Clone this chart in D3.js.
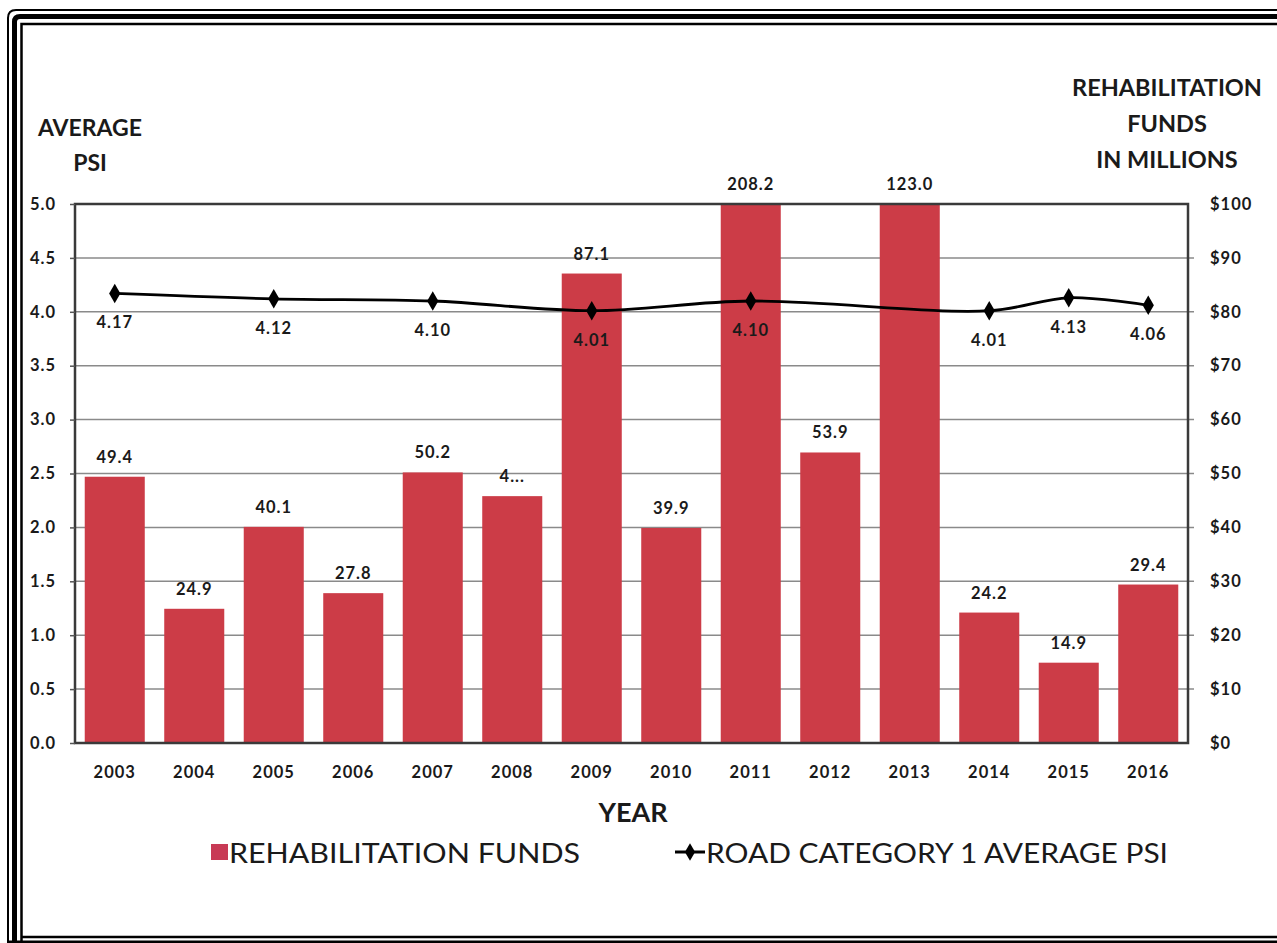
<!DOCTYPE html>
<html>
<head>
<meta charset="utf-8">
<script src="https://cdn.jsdelivr.net/npm/d3@7/dist/d3.min.js"></script>
<style>
  html, body { margin: 0; padding: 0; background: #fff; }
  svg { display: block; }
  text { font-family: Lato, "Open Sans", sans-serif; fill: #1a1a1a; }
</style>
</head>
<body>
<svg id="chart" width="1277" height="943"></svg>
<script>
// Years on the x axis
const years = ["2003","2004","2005","2006","2007","2008","2009","2010","2011","2012","2013","2014","2015","2016"];
// Rehabilitation funds, millions of dollars (bars, right axis)
const funds = [49.4, 24.9, 40.1, 27.8, 50.2, 45.8, 87.1, 39.9, 208.2, 53.9, 123.0, 24.2, 14.9, 29.4];
// Text printed above each bar
const fundLabels = ["49.4","24.9","40.1","27.8","50.2","4...","87.1","39.9","208.2","53.9","123.0","24.2","14.9","29.4"];
// Road category 1 average PSI (line, left axis); years without a reading are null
const psi = [4.17, null, 4.12, null, 4.10, null, 4.01, null, 4.10, null, null, 4.01, 4.13, 4.06];
// Axis ticks
const psiTicks = [0, 0.5, 1, 1.5, 2, 2.5, 3, 3.5, 4, 4.5, 5];
const fundTicks = [0, 10, 20, 30, 40, 50, 60, 70, 80, 90, 100];

const svg = d3.select("#chart");
const W = 1277, H = 943;
const plot = { left: 75, right: 1188, top: 204, bottom: 743 };
const smallFont = 16.5, smallSpacing = 1;

// Double frame around the whole figure
const frame = svg.append("g").attr("fill", "none").attr("stroke", "#000");
frame.append("path").attr("stroke-width", 2)
  .attr("d", `M8,${H + 5} L8,18 Q8,10 16,10 L${W + 5},10`);
frame.append("path").attr("stroke-width", 5)
  .attr("d", `M14.5,${H + 5} L14.5,22 Q14.5,16.5 20,16.5 L${W + 5},16.5`);
frame.append("path").attr("stroke-width", 2.5)
  .attr("d", `M21.5,${H + 5} L21.5,24 L${W + 5},24`);
frame.append("line").attr("stroke-width", 2.5)
  .attr("x1", 21.5).attr("x2", W + 5).attr("y1", 937).attr("y2", 937);
frame.append("line").attr("stroke-width", 3)
  .attr("x1", 8).attr("x2", W + 5).attr("y1", 942).attr("y2", 942);

// Scales
const x = d3.scaleBand().domain(years).range([plot.left, plot.right]).paddingInner(0.245).paddingOuter(0.1225);
const yPsi = d3.scaleLinear().domain([0, 5]).range([plot.bottom, plot.top]);
const yFund = d3.scaleLinear().domain([0, 100]).range([plot.bottom, plot.top]).clamp(true);

// Horizontal gridlines
svg.append("g").selectAll("line").data(psiTicks.slice(1, -1)).join("line")
  .attr("x1", plot.left).attr("x2", plot.right + 6)
  .attr("y1", d => yPsi(d)).attr("y2", d => yPsi(d))
  .attr("stroke", "#8a8a8a").attr("stroke-width", 1.5);

// Bars
svg.append("g").selectAll("rect").data(years).join("rect")
  .attr("x", d => x(d))
  .attr("width", x.bandwidth())
  .attr("y", (d, i) => yFund(funds[i]))
  .attr("height", (d, i) => plot.bottom - yFund(funds[i]))
  .attr("fill", "#cc3c47");

// Bar value labels
svg.append("g").selectAll("text").data(years).join("text")
  .attr("x", d => x(d) + x.bandwidth() / 2)
  .attr("y", (d, i) => yFund(funds[i]) - 14)
  .attr("text-anchor", "middle")
  .attr("font-size", smallFont).attr("font-weight", 700).attr("letter-spacing", smallSpacing)
  .text((d, i) => fundLabels[i]);

// Plot frame
svg.append("rect")
  .attr("x", plot.left).attr("y", plot.top)
  .attr("width", plot.right - plot.left).attr("height", plot.bottom - plot.top)
  .attr("fill", "none").attr("stroke", "#3a3a3a").attr("stroke-width", 2.5);

// Left axis
const leftAxis = d3.axisLeft(yPsi).tickValues(psiTicks).tickSize(5).tickPadding(14)
  .tickFormat(d3.format(".1f"));
const gl = svg.append("g").attr("transform", `translate(${plot.left},0)`).call(leftAxis);
gl.select(".domain").remove();
gl.selectAll(".tick line").attr("stroke", "#555").attr("stroke-width", 1.5);
gl.selectAll(".tick text").attr("font-size", smallFont).attr("font-weight", 700)
  .attr("letter-spacing", smallSpacing)
  .attr("font-family", "Lato, sans-serif").attr("fill", "#1a1a1a");

// Right axis
const rightAxis = d3.axisRight(yFund).tickValues(fundTicks).tickSize(0).tickPadding(22)
  .tickFormat(d => "$" + d);
const gr = svg.append("g").attr("transform", `translate(${plot.right},0)`).call(rightAxis);
gr.select(".domain").remove();
gr.selectAll(".tick text").attr("font-size", smallFont).attr("font-weight", 700)
  .attr("letter-spacing", smallSpacing)
  .attr("font-family", "Lato, sans-serif").attr("fill", "#1a1a1a");

// Year labels
svg.append("g").selectAll("text").data(years).join("text")
  .attr("x", d => x(d) + x.bandwidth() / 2)
  .attr("y", 778)
  .attr("text-anchor", "middle")
  .attr("font-size", smallFont).attr("font-weight", 700).attr("letter-spacing", smallSpacing)
  .text(d => d);

// PSI line (smoothed) with markers
const psiPts = years.map((d, i) => ({ year: d, v: psi[i] })).filter(p => p.v != null);
const line = d3.line()
  .x(p => x(p.year) + x.bandwidth() / 2)
  .y(p => yPsi(p.v))
  .curve(d3.curveCatmullRom.alpha(0.5));
svg.append("path").datum(psiPts)
  .attr("d", line).attr("fill", "none")
  .attr("stroke", "#000").attr("stroke-width", 2.8);
const diamond = d3.symbol().type(d3.symbolDiamond).size(110);
svg.append("g").selectAll("path").data(psiPts).join("path")
  .attr("d", diamond)
  .attr("transform", p => `translate(${x(p.year) + x.bandwidth() / 2},${yPsi(p.v)})`)
  .attr("fill", "#000");
svg.append("g").selectAll("text").data(psiPts).join("text")
  .attr("x", p => x(p.year) + x.bandwidth() / 2)
  .attr("y", p => yPsi(p.v) + 35)
  .attr("text-anchor", "middle")
  .attr("font-size", smallFont).attr("font-weight", 700).attr("letter-spacing", smallSpacing)
  .text(p => p.v.toFixed(2));

// Axis titles
const leftTitle = svg.append("text").attr("text-anchor", "middle")
  .attr("font-size", 23).attr("font-weight", 700);
leftTitle.append("tspan").attr("x", 90).attr("y", 136).text("AVERAGE");
leftTitle.append("tspan").attr("x", 90).attr("y", 171).text("PSI");

const rightTitle = svg.append("text").attr("text-anchor", "middle")
  .attr("font-size", 23.5).attr("font-weight", 700);
rightTitle.append("tspan").attr("x", 1167).attr("y", 96).text("REHABILITATION");
rightTitle.append("tspan").attr("x", 1167).attr("y", 132).text("FUNDS");
rightTitle.append("tspan").attr("x", 1167).attr("y", 168).text("IN MILLIONS");

svg.append("text").attr("x", 633).attr("y", 822)
  .attr("text-anchor", "middle").attr("font-size", 27).attr("font-weight", 700)
  .text("YEAR");

// Legend
const legend = svg.append("g");
legend.append("rect").attr("x", 211).attr("y", 844).attr("width", 17).attr("height", 16)
  .attr("fill", "#c83a55");
legend.append("text").attr("x", 229).attr("y", 863)
  .attr("font-size", 27).attr("textLength", 351).attr("lengthAdjust", "spacingAndGlyphs")
  .text("REHABILITATION FUNDS");
legend.append("line").attr("x1", 675).attr("x2", 705).attr("y1", 852).attr("y2", 852)
  .attr("stroke", "#000").attr("stroke-width", 3);
legend.append("path").attr("d", d3.symbol().type(d3.symbolDiamond).size(90))
  .attr("transform", "translate(690,852)").attr("fill", "#000");
legend.append("text").attr("x", 706).attr("y", 863)
  .attr("font-size", 27).attr("textLength", 462).attr("lengthAdjust", "spacingAndGlyphs")
  .text("ROAD CATEGORY 1 AVERAGE PSI");
</script>
</body>
</html>
